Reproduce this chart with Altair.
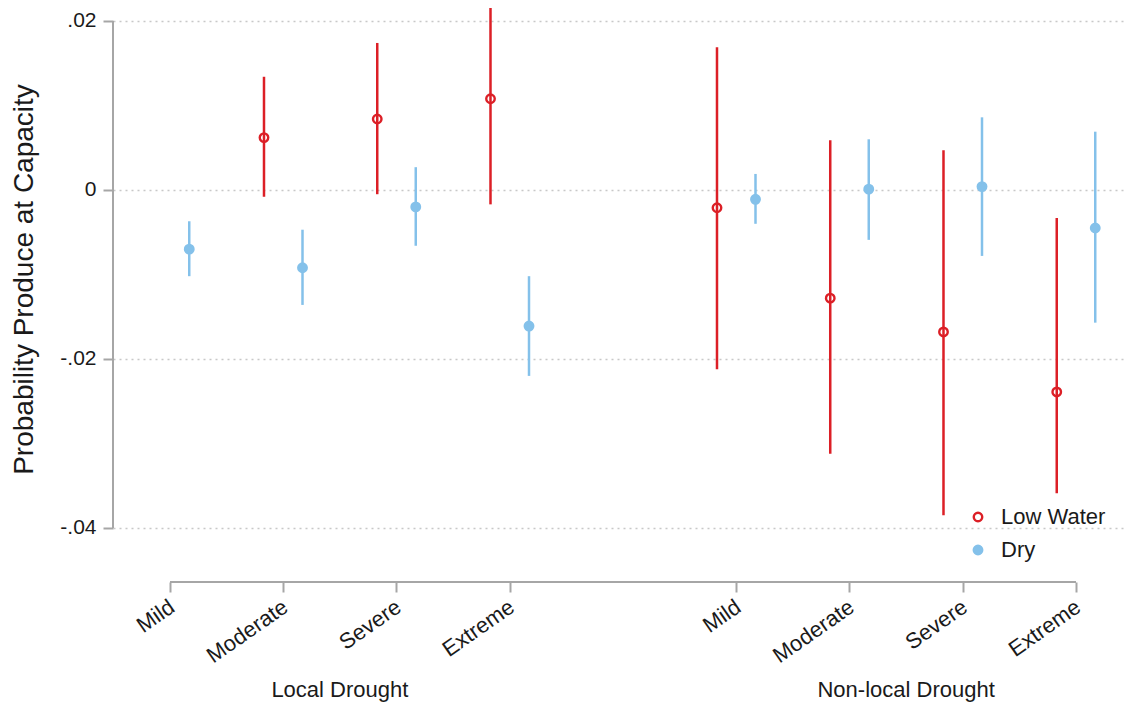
import altair as alt
import pandas as pd

# ---- data ----
severity = ["Mild", "Moderate", "Severe", "Extreme"]
groups = ["Local Drought", "Non-local Drought"]
positions = [1, 2, 3, 4, 6, 7, 8, 9]

lw_est = [None, 0.0062, 0.0084, 0.0108, -0.0021, -0.0128, -0.0168, -0.0239]
lw_lo = [None, -0.0008, -0.0005, -0.0017, -0.0212, -0.0312, -0.0385, -0.0359]
lw_hi = [None, 0.0134, 0.0174, 0.0233, 0.0169, 0.0059, 0.0047, -0.0033]

dry_est = [-0.0070, -0.0092, -0.0020, -0.0161, -0.0011, 0.0001, 0.0004, -0.0045]
dry_lo = [-0.0102, -0.0136, -0.0066, -0.0220, -0.0040, -0.0059, -0.0078, -0.0157]
dry_hi = [-0.0037, -0.0047, 0.0027, -0.0102, 0.0019, 0.0060, 0.0086, 0.0069]

y_ticks = [-0.04, -0.02, 0, 0.02]

series_names = ["Low Water", "Dry"]
RED = "#dc1f26"
BLUE = "#84c1ea"
GRAY = "#a6a6a6"
TXT = "#1a1a1a"
FONT = "Liberation Sans"
OFF = 0.17

rows = []
for i, p in enumerate(positions):
    if lw_est[i] is not None:
        rows.append(dict(xp=p - OFF, series="Low Water", est=lw_est[i], lo=lw_lo[i], hi=lw_hi[i]))
    rows.append(dict(xp=p + OFF, series="Dry", est=dry_est[i], lo=dry_lo[i], hi=dry_hi[i]))
df = pd.DataFrame(rows)

grp_df = pd.DataFrame({
    "label": groups,
    "xc": [sum(positions[:4]) / 4, sum(positions[4:]) / 4],
})
axis_df = pd.DataFrame({
    "x1": [min(positions)], "x2": [max(positions)],
    "y1": [min(y_ticks)], "y2": [max(y_ticks)],
})

xs = alt.Scale(domain=[0.4967, 9.4327], nice=False, zero=False)
ys = alt.Scale(domain=[-0.046391, 0.021538], nice=False, zero=False)
stroke_scale = alt.Scale(domain=series_names, range=[RED, BLUE])
fill_scale = alt.Scale(domain=series_names, range=["transparent", BLUE])

label_list = [""] + severity + [""] + severity
label_arr = "[" + ",".join("'" + s + "'" for s in label_list) + "]"

x_axis = alt.Axis(
    values=positions, labelExpr=label_arr + "[datum.value]", title=None,
    domain=False, grid=False, ticks=True, tickColor=GRAY, tickWidth=2, tickSize=10,
    labelAngle=325, labelAlign="right", labelBaseline="top", labelPadding=4,
    labelOffset=-4,
    labelFontSize=22, labelColor=TXT, labelFont=FONT,
)
y_axis = alt.Axis(
    values=y_ticks,
    labelExpr="datum.value == 0 ? '0' : (datum.value < 0 ? '-' : '') + replace(format(abs(datum.value), '.2f'), '0.', '.')",
    title="Probability Produce at Capacity", titleFontSize=28, titleFontWeight="normal",
    titleFont=FONT, titleColor=TXT, titleX=-75, titleY=271,
    domain=False, grid=True, gridDash=[2, 4], gridColor="#c8c8c8", gridWidth=1.5,
    ticks=True, tickColor=GRAY, tickWidth=2, tickSize=10, labelPadding=7,
    labelFontSize=21, labelColor=TXT, labelFont=FONT,
)

legend = alt.Legend(
    title=None, orient="none", legendX=854, legendY=498,
    labelFontSize=22, labelFont=FONT, labelColor=TXT,
    symbolSize=72, symbolStrokeWidth=2.4, labelOffset=12, rowPadding=11,
    symbolType="circle",
)

rules = alt.Chart(df).mark_rule(strokeWidth=2.5, clip=True).encode(
    x=alt.X("xp:Q", scale=xs, axis=x_axis),
    y=alt.Y("lo:Q", scale=ys, axis=y_axis),
    y2="hi:Q",
    stroke=alt.Stroke("series:N", scale=stroke_scale, legend=legend),
)

points = alt.Chart(df).mark_point(size=72, strokeWidth=2.4, opacity=1).encode(
    x=alt.X("xp:Q", scale=xs, axis=x_axis),
    y=alt.Y("est:Q", scale=ys, axis=y_axis),
    stroke=alt.Stroke("series:N", scale=stroke_scale, legend=legend),
    fill=alt.Fill("series:N", scale=fill_scale, legend=legend),
)

y_line = alt.Chart(axis_df).mark_rule(color=GRAY, strokeWidth=2).encode(
    x=alt.value(0),
    y=alt.Y("y1:Q", scale=ys, axis=y_axis),
    y2="y2:Q",
)
x_line = alt.Chart(axis_df).mark_rule(color=GRAY, strokeWidth=2).encode(
    x=alt.X("x1:Q", scale=xs, axis=x_axis),
    x2="x2:Q",
    y=alt.value(574),
)

grp_text = alt.Chart(grp_df).mark_text(
    fontSize=22, font=FONT, color=TXT, baseline="alphabetic", align="center"
).encode(
    x=alt.X("xc:Q", scale=xs, axis=x_axis),
    y=alt.value(689),
    text="label:N",
)

chart = alt.layer(rules, points, y_line, x_line, grp_text).properties(
    width=1012, height=574,
    autosize=alt.AutoSizeParams(type="none"),
    padding={"left": 105, "top": 0, "right": 0, "bottom": 126},
    background="white",
).configure(font=FONT).configure_view(stroke=None)

chart.save("out.html", embed_options={"renderer": "svg", "actions": False})
